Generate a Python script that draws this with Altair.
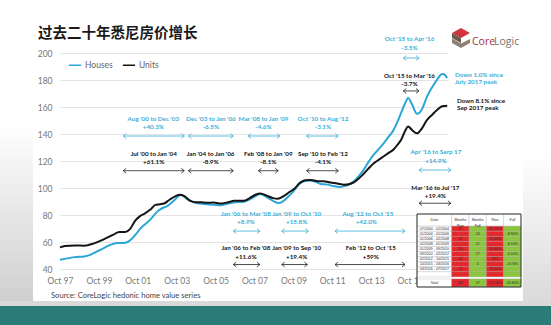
import altair as alt
import pandas as pd

# ---------------- data ----------------
title_text = "过去二十年悉尼房价增长"
source_text = "Source:  CoreLogic hedonic home value series"

house_t = [1997.75, 1998.0, 1998.5, 1999.0, 1999.3, 1999.66, 2000.0, 2000.35, 2000.7, 2001.0,
           2001.2, 2001.45, 2001.72, 2001.95, 2002.2, 2002.45, 2002.75, 2003.0, 2003.26, 2003.6,
           2003.95, 2004.29, 2004.6, 2004.9, 2005.3, 2005.7, 2006.0, 2006.4, 2006.7, 2007.2,
           2007.5, 2007.8, 2008.06, 2008.35, 2008.7, 2009.0, 2009.25, 2009.55, 2009.8, 2010.05,
           2010.3, 2010.6, 2010.9, 2011.15, 2011.5, 2011.8, 2012.1, 2012.34, 2012.6, 2012.86,
           2013.1, 2013.37, 2013.6, 2013.88, 2014.15, 2014.4, 2014.65, 2014.91, 2015.1, 2015.3,
           2015.5, 2015.65, 2015.85, 2016.1, 2016.35, 2016.63, 2016.9, 2017.15, 2017.4, 2017.5,
           2017.66]
house_v = [46.8, 47.5, 48.8, 49.3, 50.5, 53.0, 55.5, 58.0, 59.3, 59.3,
           59.8, 62.5, 67.0, 71.0, 74.0, 77.5, 82.5, 85.0, 86.5, 90.5,
           94.8, 91.8, 89.5, 88.5, 88.0, 87.5, 87.3, 88.5, 89.3, 89.8,
           91.5, 94.0, 95.5, 93.5, 90.5, 88.8, 90.5, 94.5, 98.5, 103.0,
           105.0, 105.5, 104.5, 103.0, 102.5, 101.5, 100.8, 101.2, 102.5, 104.9,
           108.5, 113.6, 119.0, 124.7, 129.0, 133.3, 138.0, 143.2, 149.0, 156.0,
           163.0, 166.7, 162.0, 155.0, 158.0, 168.0, 175.0, 180.5, 184.4, 184.2,
           181.5]

unit_t = [1997.75, 1998.0, 1998.5, 1999.0, 1999.5, 2000.0, 2000.5, 2000.8, 2001.1, 2001.35,
          2001.6, 2001.85, 2002.1, 2002.4, 2002.65, 2002.9, 2003.1, 2003.4, 2003.7, 2003.9,
          2004.15, 2004.45, 2004.75, 2005.0, 2005.3, 2005.65, 2006.0, 2006.4, 2006.7, 2007.2,
          2007.5, 2007.8, 2008.05, 2008.4, 2008.7, 2008.95, 2009.25, 2009.55, 2009.8, 2010.1,
          2010.35, 2010.65, 2011.0, 2011.3, 2011.66, 2012.0, 2012.35, 2012.65, 2012.9, 2013.15,
          2013.4, 2013.65, 2013.9, 2014.15, 2014.4, 2014.65, 2014.9, 2015.1, 2015.3, 2015.5,
          2015.65, 2015.85, 2016.1, 2016.35, 2016.6, 2016.9, 2017.15, 2017.4, 2017.66]
unit_v = [56.0, 57.0, 57.5, 57.3, 59.0, 62.0, 65.5, 67.5, 67.5, 69.5,
          75.5, 79.0, 81.0, 84.0, 87.5, 88.0, 88.5, 91.5, 94.0, 95.0,
          94.0, 90.5, 89.5, 89.5, 89.0, 89.3, 88.5, 89.5, 90.5, 90.5,
          92.5, 95.0, 96.0, 94.2, 92.5, 92.0, 94.0, 97.0, 99.5, 104.0,
          105.8, 106.0, 105.0, 105.0, 104.0, 103.3, 102.4, 103.0, 104.5, 107.5,
          111.0, 115.0, 118.5, 121.0, 123.5, 126.0, 128.5, 132.0, 136.0, 142.5,
          145.5, 143.0, 140.5, 144.0, 150.0, 154.5, 158.0, 160.5, 161.0]

series_names = ["Houses", "Units"]
x_ticks = [1997.75, 1999.75, 2001.75, 2003.75, 2005.75, 2007.75, 2009.75, 2011.75, 2013.75, 2015.75, 2017.75]
x_tick_labels = ["Oct 97", "Oct 99", "Oct 01", "Oct 03", "Oct 05", "Oct 07", "Oct 09", "Oct 11", "Oct 13", "Oct 15", "Oct 17"]
y_ticks = [40, 60, 80, 100, 120, 140, 160, 180, 200]

# annotations: (text, t, value)
blue_notes = [
    ("Aug '00 to Dec '03", 2002.55, 151.1), ("+40.3%", 2002.55, 145.0),
    ("Dec '03 to Jan '06", 2005.51, 151.1), ("-6.5%", 2005.51, 145.0),
    ("Mar '08 to Jan '09", 2008.21, 151.1), ("-4.6%", 2008.21, 145.0),
    ("Oct '10 to Aug '12", 2011.27, 151.1), ("-3.1%", 2011.27, 145.0),
    ("Jan '06 to Mar '08", 2007.31, 81.1), ("+8.9%", 2007.31, 75.0),
    ("Jan '09 to Oct '10", 2009.92, 81.1), ("+15.8%", 2009.92, 75.0),
    ("Aug '12 to Oct '15", 2013.58, 81.1), ("+42.0%", 2013.5, 75.0),
    ("Apr '16 to Serp 17", 2017.08, 126.4), ("+14.9%", 2017.08, 120.2),
    ("Oct '15 to Apr '16", 2015.72, 210.1), ("-3.5%", 2015.72, 203.7),
]
blue_side = [("Down 1.0% since", 2018.06, 183.5), ("July 2017 peak", 2018.06, 178.3)]
blue_arrows = [  # (t1, t2, value)
    (2001.0, 2004.14, 138.5), (2004.35, 2006.66, 138.5), (2007.42, 2009.06, 138.5),
    (2010.43, 2012.06, 138.5), (2006.66, 2008.03, 68.1), (2009.15, 2010.52, 68.1),
    (2011.89, 2015.49, 68.1), (2016.21, 2017.85, 113.3), (2015.40, 2016.21, 196.3),
]
black_notes = [
    ("Jul '00 to Jan '04", 2002.57, 125.0), ("+61.1%", 2002.57, 119.0),
    ("Jan '04 to Jan '06", 2005.49, 125.0), ("-8.9%", 2005.49, 119.0),
    ("Feb '08 to Jan '09", 2008.46, 125.0), ("-8.1%", 2008.46, 119.0),
    ("Sep '10 to Feb '12", 2011.27, 125.0), ("-4.1%", 2011.27, 119.0),
    ("Mar '16 to Jul '17", 2017.05, 100.2), ("+19.4%", 2017.05, 94.1),
    ("Oct '15 to Mar '16", 2015.72, 183.2), ("-3.7%", 2015.72, 177.3),
    ("Jan '06 to Feb '08", 2007.31, 55.2), ("+11.6%", 2007.31, 48.9),
    ("Jan '09 to Sep '10", 2009.92, 55.2), ("+19.4%", 2009.92, 48.9),
    ("Feb '12 to Oct '15", 2013.73, 55.2), ("+59%", 2013.73, 48.9),
]
black_side = [("Down 8.1% since", 2018.16, 164.7), ("Sep 2017 peak", 2018.16, 159.3)]
black_arrows = [
    (2001.0, 2004.14, 112.8), (2004.35, 2006.66, 112.8), (2007.95, 2008.97, 112.8),
    (2010.43, 2012.06, 112.8), (2016.21, 2017.85, 88.7), (2015.40, 2016.21, 171.9),
    (2006.66, 2008.03, 43.3), (2009.15, 2010.47, 43.3), (2011.89, 2015.49, 43.3),
]

# summary table
table_headers = ["Date", "Months\nRise", "Months\nFall", "Rise", "Fall"]
table_dates = ["07/2000 - 01/2004", "01/2004 - 01/2006", "01/2006 - 02/2008", "02/2008 - 01/2009",
               "01/2009 - 09/2010", "09/2010 - 02/2012", "02/2012 - 10/2015", "10/2015 - 03/2016",
               "03/2016 - 07/2017", ""]
months_rise = ["41", "", "21", "", "20", "", "44", "", "16", ""]
months_fall = ["", "24", "", "11", "", "17", "", "5", "", ""]
rise_pct = ["61.10%", "", "11.60%", "", "19.40%", "", "59%", "", "19.40%", ""]
fall_pct = ["", "-8.90%", "", "-8.10%", "", "-4.10%", "", "-3.70%", "", ""]
table_total = ["Total", "142", "57", "170.50%", "-24.80%"]

# ---------------- styling ----------------
BLUE = "#2aa6d7"
BLUE_TXT = "#3aaed8"
BLACK = "#141414"
RED = "#e3272c"
GREEN = "#8cc63f"
FONT = "Lato"
NOTE_SIZE = 6.3

xs = alt.Scale(domain=[1997.75, 2017.7], nice=False, zero=False)
ys = alt.Scale(domain=[40, 200], nice=False, zero=False)

one = pd.DataFrame({"a": [0]})

label_expr = "[" + ",".join("'" + s + "'" for s in x_tick_labels) + "][round((datum.value - 1997.75) / 2)]"

X_AXIS = alt.Axis(values=x_ticks, labelExpr=label_expr, grid=False, domain=False, ticks=False,
                  labelFlush=False, labelOverlap=False, title=None,
                  labelPadding=7, labelFontSize=8.5, labelColor="#777777", labelFont=FONT, zindex=0)
Y_AXIS = alt.Axis(values=y_ticks, grid=True, gridColor="#e4e4e4", gridWidth=1, domain=False, ticks=False,
                  labelFlush=False, labelOverlap=False, title=None, tickCount=9,
                  labelPadding=8, labelFontSize=8.5, labelColor="#777777", labelFont=FONT, zindex=0)


def X(field):
    return alt.X(field, scale=xs, title=None, axis=X_AXIS)


def Y(field):
    return alt.Y(field, scale=ys, title=None, axis=Y_AXIS)


def grad(c1, c2):
    return alt.LinearGradient(gradient="linear", x1=0, x2=0, y1=0, y2=1,
                              stops=[alt.GradientStop(color=c1, offset=0),
                                     alt.GradientStop(color=c2, offset=1)])


# background decorations (photo of slide)
left_strip = alt.Chart(one).mark_rect(color=grad("#ffffff", "#cfcfcf")).encode(
    x=alt.value(-60), x2=alt.value(-27), y=alt.value(70), y2=alt.value(249))
right_strip = alt.Chart(one).mark_rect(color=grad("#ffffff", "#dadada")).encode(
    x=alt.value(463), x2=alt.value(491), y=alt.value(100), y2=alt.value(249))
gray_band = alt.Chart(one).mark_rect(color="#d9d9d9").encode(
    x=alt.value(-60), x2=alt.value(491), y=alt.value(248), y2=alt.value(254))
teal_band = alt.Chart(one).mark_rect(color="#2b7b79").encode(
    x=alt.value(-60), x2=alt.value(491), y=alt.value(253), y2=alt.value(272))

title = alt.Chart(one).mark_text(text=title_text, align="left", baseline="middle",
                                 font="Noto Sans CJK SC", fontSize=14.5, fontWeight="bold",
                                 color="#1a1a1a").encode(x=alt.value(-22), y=alt.value(-19))
source = alt.Chart(one).mark_text(text=source_text, align="left", baseline="middle",
                                  font=FONT, fontSize=7.6, color="#444444").encode(
    x=alt.value(-9), y=alt.value(243))

# logo
logo_parts = [
    ("M0,-1L0.9,-0.5L0,0L-0.9,-0.5Z", "#d2363c"),
    ("M-0.9,-0.5L0,0L0,0.5L-0.9,0Z", "#6e5b52"),
    ("M-0.9,0.05L0,0.55L0.9,0.1L0.9,0.5L0,1L-0.9,0.5Z", "#8d8076"),
]
logo_layers = [
    alt.Chart(one).mark_point(shape=p, filled=True, size=400, opacity=1, color=c).encode(
        x=alt.value(401), y=alt.value(-15))
    for p, c in logo_parts
]
logo_core = alt.Chart(one).mark_text(text="Core", align="left", baseline="middle", font="Open Sans",
                                     fontSize=10.5, color="#a8303a").encode(x=alt.value(412), y=alt.value(-11))
logo_logic = alt.Chart(one).mark_text(text="Logic", align="left", baseline="middle", font="Open Sans",
                                      fontSize=10.5, color="#77716c").encode(x=alt.value(434), y=alt.value(-11))

# lines
lines_df = pd.concat([
    pd.DataFrame({"t": house_t, "v": house_v, "series": series_names[0]}),
    pd.DataFrame({"t": unit_t, "v": unit_v, "series": series_names[1]}),
])
lines = alt.Chart(lines_df).mark_line(strokeWidth=2, interpolate="monotone").encode(
    x=X("t:Q"),
    y=Y("v:Q"),
    color=alt.Color("series:N", scale=alt.Scale(domain=series_names, range=[BLUE, BLACK]),
                    legend=alt.Legend(orient="none", legendX=8, legendY=5, direction="horizontal", title=None,
                                      symbolType="stroke", symbolStrokeWidth=1.5, symbolSize=150,
                                      labelFontSize=8.5, labelColor="#666666", labelFont=FONT,
                                      columnPadding=6, labelOffset=3)),
)


def notes_layer(notes, color, align):
    df = pd.DataFrame(notes, columns=["label", "t", "v"])
    return alt.Chart(df).mark_text(align=align, baseline="middle", font=FONT, fontSize=NOTE_SIZE,
                                   fontWeight="bold", color=color).encode(
        x=X("t:Q"), y=Y("v:Q"), text="label:N")


def arrows_layer(arrows, color):
    df = pd.DataFrame(arrows, columns=["t1", "t2", "v"])
    rule = alt.Chart(df).mark_rule(strokeWidth=0.8, color=color).encode(
        x=X("t1:Q"), x2="t2:Q", y=Y("v:Q"))
    lh = alt.Chart(df).mark_point(shape="M1,-0.8L0,0L1,0.8", filled=False, size=36, strokeWidth=0.8,
                                  opacity=1, color=color).encode(x=X("t1:Q"), y=Y("v:Q"))
    rh = alt.Chart(df).mark_point(shape="M-1,-0.8L0,0L-1,0.8", filled=False, size=36, strokeWidth=0.8,
                                  opacity=1, color=color).encode(x=X("t2:Q"), y=Y("v:Q"))
    return [rule, lh, rh]


main = alt.layer(
    left_strip, right_strip, gray_band, teal_band, title, source, *logo_layers, logo_core, logo_logic,
    lines,
    notes_layer(blue_notes, BLUE_TXT, "center"), notes_layer(blue_side, BLUE_TXT, "left"),
    notes_layer(black_notes, BLACK, "center"), notes_layer(black_side, BLACK, "left"),
    *arrows_layer(blue_arrows, BLUE_TXT), *arrows_layer(black_arrows, "#222222"),
)

# table cells
rows = []
ncol = len(table_headers)


def col_x(c):
    return (0.0, 2.0) if c == 0 else (c + 1.0, c + 2.0)


for c in range(ncol):
    x0, x1 = col_x(c)
    rows.append(dict(x0=x0, x1=x1, y0=0.0, y1=2.4, fill="#ffffff", label=table_headers[c]))
body_cols = [table_dates, months_rise, months_fall, rise_pct, fall_pct]
body_fill = ["#ffffff", RED, GREEN, RED, GREEN]
for r in range(len(table_dates)):
    for c in range(ncol):
        x0, x1 = col_x(c)
        rows.append(dict(x0=x0, x1=x1, y0=2.4 + r, y1=3.4 + r, fill=body_fill[c], label=body_cols[c][r]))
for c in range(ncol):
    x0, x1 = col_x(c)
    rows.append(dict(x0=x0, x1=x1, y0=12.8, y1=14.4, fill=body_fill[c], label=table_total[c]))
cells = pd.DataFrame(rows)
cells["xm"] = (cells["x0"] + cells["x1"]) / 2
cells["ym"] = (cells["y0"] + cells["y1"]) / 2

tx = alt.Scale(domain=[0, 6], range=[357, 461], nice=False, zero=False)
ty = alt.Scale(domain=[0, 14.4], range=[161, 234], nice=False, zero=False)

tbl_bg = alt.Chart(one).mark_rect(color="#ffffff").encode(
    x=alt.X("a:Q", scale=tx, axis=None), x2=alt.value(461), y=alt.Y("a:Q", scale=ty, axis=None), y2=alt.value(234))
tbl_cells = alt.Chart(cells).mark_rect(stroke="#a0a0a0", strokeWidth=0.3).encode(
    x=alt.X("x0:Q", scale=tx, axis=None), x2="x1:Q",
    y=alt.Y("y0:Q", scale=ty, axis=None), y2="y1:Q",
    fill=alt.Fill("fill:N", scale=None))
tbl_text = alt.Chart(cells).mark_text(fontSize=3.6, font="Liberation Sans", color="#2a2a2a",
                                      lineBreak="\n", baseline="middle").encode(
    x=alt.X("xm:Q", scale=tx, axis=None), y=alt.Y("ym:Q", scale=ty, axis=None), text="label:N")
tbl_border = alt.Chart(one).mark_rect(fill=None, stroke="#333333", strokeWidth=1).encode(
    x=alt.X("a:Q", scale=tx, axis=None), x2=alt.value(461), y=alt.Y("a:Q", scale=ty, axis=None), y2=alt.value(234))

table = alt.layer(tbl_bg, tbl_cells, tbl_text, tbl_border)

chart = alt.layer(main, table).resolve_scale(x="independent", y="independent").properties(
    width=388, height=216,
    autosize=alt.AutoSizeParams(type="none"),
    padding={"left": 60, "top": 53, "right": 103, "bottom": 56},
).configure(background="white").configure_view(stroke=None).configure_axis(
    labelOverlap=False, labelFlush=False)

chart.save("out.html", embed_options={"renderer": "svg", "actions": False})
